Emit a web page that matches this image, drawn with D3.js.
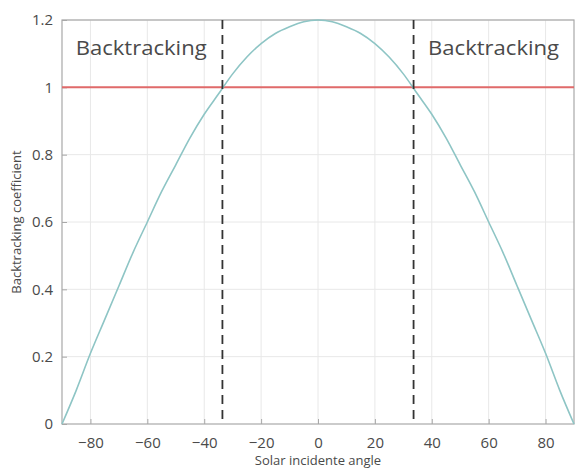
<!DOCTYPE html>
<html>
<head>
<meta charset="utf-8">
<script src="https://cdn.jsdelivr.net/npm/d3@7"></script>
<style>
  body { margin: 0; background: #fff; }
  text { font-family: "Open Sans", "DejaVu Sans", sans-serif; }
</style>
</head>
<body>
<script>
var margin = {top: 20, right: 2, bottom: 46, left: 62},
    width = 576 - margin.left - margin.right,
    height = 470 - margin.top - margin.bottom;

// values
var angles = [-90, -85, -80, -75, -70, -65, -60, -55, -50, -45, -40, -35, -30, -25, -20, -15, -10, -5,
              0, 5, 10, 15, 20, 25, 30, 35, 40, 45, 50, 55, 60, 65, 70, 75, 80, 85, 90];
var coeff = [0, 0.10, 0.21, 0.31, 0.41, 0.51, 0.60, 0.69, 0.77, 0.85, 0.92, 0.98, 1.04, 1.09, 1.13, 1.16, 1.18, 1.195,
             1.2, 1.195, 1.18, 1.16, 1.13, 1.09, 1.04, 0.98, 0.92, 0.85, 0.77, 0.69, 0.60, 0.51, 0.41, 0.31, 0.21, 0.10, 0];
var limitLevel = [1];
var limitAngles = [-33.6, 33.6];
var xTicks = [-80, -60, -40, -20, 0, 20, 40, 60, 80];
var yTicks = [0, 0.2, 0.4, 0.6, 0.8, 1, 1.2];
var zoneLabels = ["Backtracking", "Backtracking"];
var zoneStart = [-85.2, 38.7];

var svg = d3.select("body").append("svg")
    .attr("width", 576)
    .attr("height", 470);
var g = svg.append("g")
    .attr("transform", "translate(" + margin.left + "," + margin.top + ")");

var x = d3.scaleLinear().domain([-90, 90]).range([0, width]);
var y = d3.scaleLinear().domain([0, 1.2]).range([height, 0]);

// grid
g.append("g").selectAll("line").data(xTicks).enter().append("line")
    .attr("x1", function (d) { return x(d); }).attr("x2", function (d) { return x(d); })
    .attr("y1", 0).attr("y2", height)
    .attr("stroke", "#e8e8e8");
g.append("g").selectAll("line").data(yTicks.slice(1)).enter().append("line")
    .attr("y1", function (d) { return y(d); }).attr("y2", function (d) { return y(d); })
    .attr("x1", 0).attr("x2", width)
    .attr("stroke", "#e8e8e8");

// box
g.append("rect").attr("width", width).attr("height", height)
    .attr("fill", "none").attr("stroke", "#a8a8a8").attr("stroke-width", 1.2);

var xAxis = g.append("g").attr("transform", "translate(0," + height + ")")
    .call(d3.axisBottom(x).tickValues(xTicks).tickSize(-5).tickPadding(13).tickFormat(d3.format("d")));
var yAxis = g.append("g")
    .call(d3.axisLeft(y).tickValues(yTicks).tickSize(-5).tickPadding(9).tickFormat(function (d) { return d; }));
[xAxis, yAxis].forEach(function (a) {
    a.select(".domain").remove();
    a.selectAll(".tick line").attr("stroke", "#a8a8a8");
    a.selectAll(".tick text").attr("fill", "#4a4a4a").style("font-size", "15px")
        .style("font-family", "'Open Sans', sans-serif");
});

// red level line
g.selectAll(".level").data(limitLevel).enter().append("line")
    .attr("class", "level")
    .attr("x1", 0).attr("x2", width)
    .attr("y1", function (d) { return y(d); }).attr("y2", function (d) { return y(d); })
    .attr("stroke", "#e06a6a").attr("stroke-width", 2);

// curve
var line = d3.line().curve(d3.curveMonotoneX)
    .x(function (d, i) { return x(angles[i]); })
    .y(function (d) { return y(d); });
g.append("path").datum(coeff)
    .attr("d", line)
    .attr("fill", "none")
    .attr("stroke", "#8ec5c5")
    .attr("stroke-width", 1.6);

// dashed limits
g.selectAll(".limit").data(limitAngles).enter().append("line")
    .attr("class", "limit")
    .attr("x1", function (d) { return x(d); }).attr("x2", function (d) { return x(d); })
    .attr("y1", 0).attr("y2", height)
    .attr("stroke", "#333").attr("stroke-width", 1.8)
    .attr("stroke-dasharray", "9,6");

// zone labels
g.selectAll(".zone").data(zoneLabels).enter().append("text")
    .attr("class", "zone")
    .attr("x", function (d, i) { return x(zoneStart[i]); })
    .attr("y", 35)
    .attr("fill", "#4a4a4a")
    .attr("textLength", 131)
    .attr("lengthAdjust", "spacingAndGlyphs")
    .style("font-size", "20px")
    .text(function (d) { return d; });

// axis titles
svg.append("text")
    .attr("x", margin.left + width / 2).attr("y", 465)
    .attr("text-anchor", "middle").attr("fill", "#4a4a4a")
    .style("font-size", "13px")
    .text("Solar incidente angle");
svg.append("text")
    .attr("transform", "translate(21," + (margin.top + height / 2) + ") rotate(-90)")
    .attr("text-anchor", "middle").attr("fill", "#4a4a4a")
    .style("font-size", "13px")
    .text("Backtracking coefficient");
</script>
</body>
</html>
